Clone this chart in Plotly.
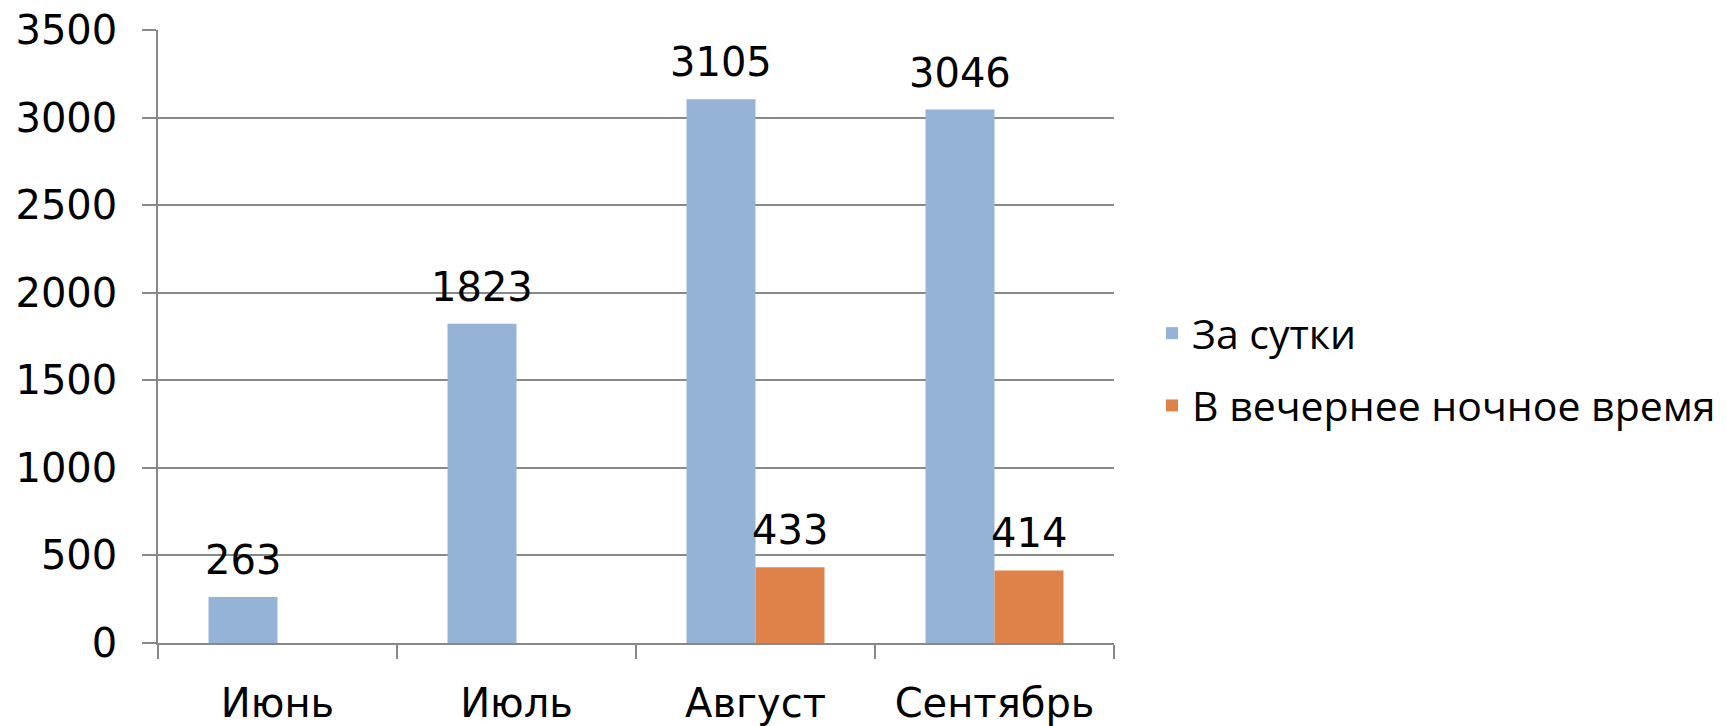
import plotly.graph_objects as go

categories = ["Июнь", "Июль", "Август", "Сентябрь"]
series_names = ["За сутки", "В вечернее ночное время"]
day_values = [263, 1823, 3105, 3046]
night_values = [None, None, 433, 414]
y_ticks = [0, 500, 1000, 1500, 2000, 2500, 3000, 3500]

BLUE = "#95B3D7"
ORANGE = "#DF824A"
GRID = "#888888"
TICK_FONT = dict(family="DejaVu Sans", size=40, color="#000000")
BARGAP = 0.4226

fig = go.Figure()
fig.add_trace(go.Bar(x=categories, y=day_values, name=series_names[0],
                     marker=dict(color=BLUE, line=dict(width=0)),
                     legendgroup="a"))
fig.add_trace(go.Bar(x=categories, y=night_values, name=series_names[1],
                     marker=dict(color=ORANGE, line=dict(width=0)),
                     legendgroup="b"))

# data labels
cat_px = (1114 - 158) / len(categories)
half = (1 - BARGAP) / 4 * cat_px
for vals, sh in ((day_values, -half), (night_values, half)):
    for c, v in zip(categories, vals):
        if v is None:
            continue
        fig.add_annotation(x=c, y=v, text=str(v), showarrow=False,
                           xref="x", yref="y", yanchor="bottom",
                           xshift=sh, yshift=12, font=TICK_FONT)

fig.update_layout(
    width=1727, height=726,
    margin=dict(l=158, r=613, t=30, b=83, autoexpand=False),
    paper_bgcolor="white", plot_bgcolor="white",
    barmode="group", bargap=BARGAP, bargroupgap=0,
    showlegend=True,
    legend=dict(xref="container", yref="container", x=1152/1727, y=1 - 300/726,
                xanchor="left", yanchor="top",
                font=dict(family="Open Sans", size=41, color="#000000"),
                traceorder="grouped", tracegroupgap=16,
                bgcolor="rgba(0,0,0,0)"),
    xaxis=dict(type="category", showline=True, linecolor=GRID, linewidth=1.5,
               ticks="outside", tickson="boundaries", ticklen=14, tickcolor=GRID,
               tickwidth=1.5, tickfont=TICK_FONT, ticklabelstandoff=24,
               showgrid=False, zeroline=False, automargin=False),
    yaxis=dict(range=[0, 3500], tickvals=y_ticks, showline=True, linecolor=GRID,
               linewidth=1.5, ticks="outside", ticklen=14, tickcolor=GRID,
               tickwidth=1.5, tickfont=TICK_FONT, ticklabelstandoff=17,
               showgrid=True, gridcolor=GRID, gridwidth=1.5, zeroline=False,
               automargin=False),
)

fig.write_html("out.html", config={"displayModeBar": False},
               post_script="document.body.style.margin='0';document.body.style.overflow='hidden';")
